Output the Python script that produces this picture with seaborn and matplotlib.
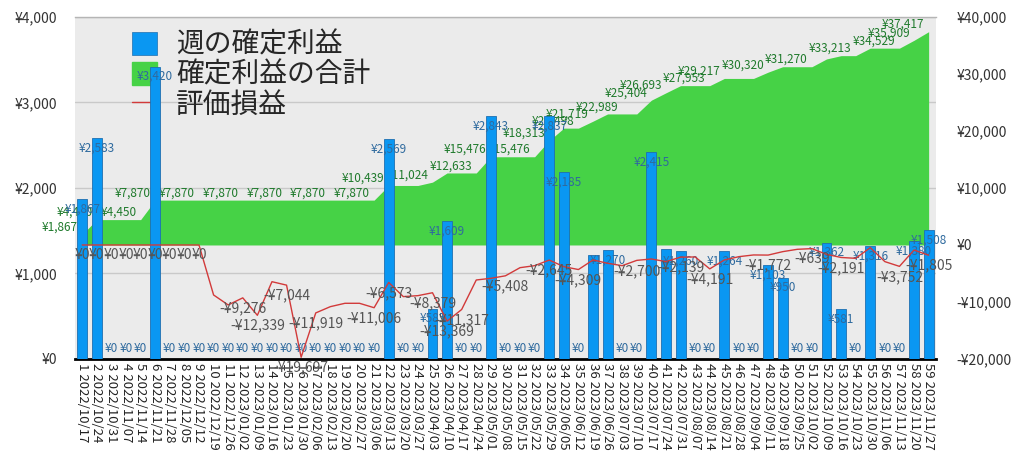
import matplotlib
matplotlib.use("Agg")
import matplotlib.pyplot as plt
from matplotlib.patches import Patch
from matplotlib.lines import Line2D
import seaborn as sns
import pandas as pd

sns.set_style("white")
plt.rcParams['font.family'] = ['Noto Sans CJK JP', 'DejaVu Sans']

# ---------------- data ----------------
dates = ["2022/10/17", "2022/10/24", "2022/10/31", "2022/11/07", "2022/11/14", "2022/11/21",
         "2022/11/28", "2022/12/05", "2022/12/12", "2022/12/19", "2022/12/26", "2023/01/02",
         "2023/01/09", "2023/01/16", "2023/01/23", "2023/01/30", "2023/02/06", "2023/02/13",
         "2023/02/20", "2023/02/27", "2023/03/06", "2023/03/13", "2023/03/20", "2023/03/27",
         "2023/04/03", "2023/04/10", "2023/04/17", "2023/04/24", "2023/05/01", "2023/05/08",
         "2023/05/15", "2023/05/22", "2023/05/29", "2023/06/05", "2023/06/12", "2023/06/19",
         "2023/06/26", "2023/07/03", "2023/07/10", "2023/07/17", "2023/07/24", "2023/07/31",
         "2023/08/07", "2023/08/14", "2023/08/21", "2023/08/28", "2023/09/04", "2023/09/11",
         "2023/09/18", "2023/09/25", "2023/10/02", "2023/10/09", "2023/10/16", "2023/10/23",
         "2023/10/30", "2023/11/06", "2023/11/13", "2023/11/20", "2023/11/27"]
week_labels = [f"{i + 1} {d}" for i, d in enumerate(dates)]

weekly_profit = [1867, 2583, 0, 0, 0, 3420, 0, 0, 0, 0,
                 0, 0, 0, 0, 0, 0, 0, 0, 0, 0,
                 0, 2569, 0, 0, 585, 1609, 0, 0, 2843, 0,
                 0, 0, 2837, 2185, 0, 1221, 1270, 0, 0, 2415,
                 1289, 1260, 0, 0, 1264, 0, 0, 1103, 950, 0,
                 0, 1362, 581, 0, 1316, 0, 0, 1380, 1508]

cumulative_profit = [1867, 4450, 4450, 4450, 4450, 7870, 7870, 7870, 7870, 7870,
                     7870, 7870, 7870, 7870, 7870, 7870, 7870, 7870, 7870, 7870,
                     7870, 10439, 10439, 10439, 11024, 12633, 12633, 12633, 15476, 15476,
                     15476, 15476, 18313, 20498, 20498, 21719, 22989, 22989, 22989, 25404,
                     26693, 27953, 27953, 27953, 29217, 29217, 29217, 30320, 31270, 31270,
                     31270, 32632, 33213, 33213, 34529, 34529, 34529, 35909, 37417]

unrealized = [0, 0, 0, 0, 0, 0, 0, 0, 0, -8770,
              -10520, -9276, -12339, -6440, -7044, -19697, -11919, -10820, -10230, -10230,
              -11006, -6573, -9060, -8890, -8379, -13369, -11317, -6140, -5850, -5408,
              -3980, -3630, -2645, -3800, -4309, -2630, -3210, -3630, -2700, -2455,
              -2920, -2139, -2100, -4191, -2630, -2050, -1750, -1772, -1170, -760,
              -639, -1640, -2191, -2340, -470, -2920, -3752, -880, -1805]

series_names = ["週の確定利益", "確定利益の合計", "評価損益"]
left_ticks = [0, 1000, 2000, 3000, 4000]
right_ticks = [-20000, -10000, 0, 10000, 20000, 30000, 40000]

# which points carry a visible value label (1-based week numbers)
bar_hidden_label_weeks = [36, 41]
cum_label_weeks = [1, 2, 5, 6, 9, 12, 15, 18, 21, 22, 25, 28, 29, 32, 33, 35, 36, 38,
                   40, 41, 44, 45, 48, 51, 54, 57, 58, 59]
unreal_label_weeks = [1, 2, 3, 4, 5, 6, 7, 8, 9, 12, 13, 15, 16, 17, 21, 22, 25, 26, 27,
                      30, 33, 35, 39, 42, 44, 48, 51, 53, 57, 59]

# ---------------- style ----------------
BLUE = "#0a97f2"
BLUE_EDGE = "#1e6fb0"
GREEN = "#46d246"
RED = "#d23a3a"
BG = "#ebebeb"
BAR_LBL = "#2f6a9e"
CUM_LBL = "#1f7a2c"
UNR_LBL = "#555555"


def yen(v):
    return f"-¥{abs(v):,}" if v < 0 else f"¥{v:,}"


df = pd.DataFrame({"week": week_labels, "pos": range(len(week_labels)),
                   "profit": weekly_profit, "cum": cumulative_profit,
                   "unreal": unrealized})

fig = plt.figure(figsize=(10.24, 4.7), dpi=100)
ax_bg = fig.add_axes([0.0732, 0.2362, 0.8408, 0.7277])
ax_area = ax_bg.twinx()
ax_bar = ax_bg.twinx()
ax_line = ax_bg.twinx()

# background axes: grey plot area, grid, left ticks, x labels
ax_bg.set_facecolor(BG)
ax_bg.set_ylim(0, 4000)
ax_bg.set_yticks(left_ticks)
ax_bg.set_yticklabels([yen(v) for v in left_ticks], fontsize=10, color="#333333")
ax_bg.yaxis.grid(True, color="#c9c9c9", lw=1)
ax_bg.set_axisbelow(True)
ax_bg.tick_params(axis="y", length=0, pad=13)
for s in ["left", "right"]:
    ax_bg.spines[s].set_visible(False)
ax_bg.spines["top"].set_color("#b5b5b5")
ax_bg.spines["top"].set_linewidth(1)
ax_bg.spines["bottom"].set_color("black")
ax_bg.spines["bottom"].set_linewidth(2)
ax_bg.spines["bottom"].set_zorder(10)

# area (right scale)
ax_area.fill_between(df["pos"], 0, df["cum"], color=GREEN, lw=0)
ax_area.set_ylim(-20000, 40000)
ax_area.set_yticks(right_ticks)
ax_area.set_yticklabels([yen(v) for v in right_ticks], fontsize=10, color="#333333")
ax_area.tick_params(axis="y", length=0, pad=15)
for s in ax_area.spines.values():
    s.set_visible(False)
for w in cum_label_weeks:
    i = w - 1
    ax_area.annotate(yen(cumulative_profit[i]), (i, cumulative_profit[i]),
                     xytext=(-3, 0.5), textcoords="offset points",
                     ha="right", va="bottom", fontsize=8.5, color=CUM_LBL)

handles = [Patch(facecolor=BLUE, edgecolor=BLUE_EDGE, lw=0.5),
           Patch(facecolor=GREEN, edgecolor=GREEN),
           Line2D([], [], color=RED, lw=1)]
leg = ax_area.legend(handles, series_names, loc="upper left",
                     bbox_to_anchor=(0.066, 0.962), frameon=False, fontsize=20,
                     handlelength=0.9, handleheight=0.9, handletextpad=0.7,
                     labelspacing=0.0, borderpad=0, borderaxespad=0)

# bars (left scale)
sns.barplot(data=df, x="week", y="profit", ax=ax_bar, color=BLUE, width=0.68,
            edgecolor=BLUE_EDGE, linewidth=0.6, saturation=1)
ax_bar.set_ylim(0, 4000)
ax_bar.yaxis.set_visible(False)
ax_bar.set_xlabel("")
ax_bar.set_ylabel("")
for s in ax_bar.spines.values():
    s.set_visible(False)
for i, v in enumerate(weekly_profit):
    if (i + 1) in bar_hidden_label_weeks:
        continue
    if v > 0:
        ax_bar.annotate(yen(v), (i, v), xytext=(0, -2.5), textcoords="offset points",
                        ha="center", va="top", fontsize=8.5, color=BAR_LBL)
    else:
        ax_bar.annotate(yen(v), (i, v), xytext=(0, 3), textcoords="offset points",
                        ha="center", va="bottom", fontsize=8.5, color=BAR_LBL)

# unrealized line (right scale)
sns.lineplot(data=df, x="pos", y="unreal", ax=ax_line, color=RED, lw=1)
ax_line.set_ylim(-20000, 40000)
ax_line.yaxis.set_visible(False)
ax_line.set_xlabel("")
ax_line.set_ylabel("")
for s in ax_line.spines.values():
    s.set_visible(False)
for w in unreal_label_weeks:
    i = w - 1
    ax_line.annotate(yen(unrealized[i]), (i, unrealized[i]), xytext=(0, -2.5),
                     textcoords="offset points", ha="center", va="top",
                     fontsize=10, color=UNR_LBL)

# shared x axis
ax_bg.set_xlim(-0.5, len(week_labels) - 0.5)
ax_bg.set_xticks(range(len(week_labels)))
ax_bg.set_xticklabels(week_labels, rotation=-90, fontsize=9.5, color="#222222")
ax_bg.tick_params(axis="x", length=0, pad=3)

fig.savefig("out.png", dpi=100)
